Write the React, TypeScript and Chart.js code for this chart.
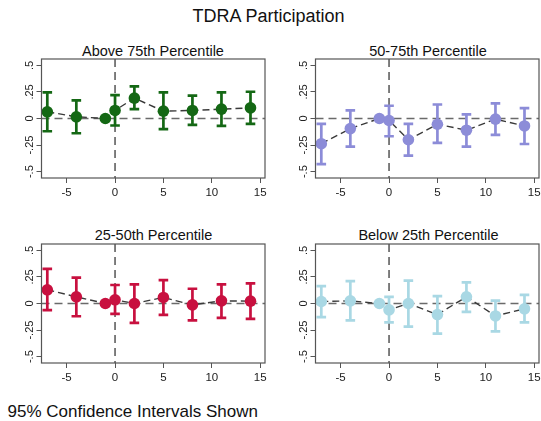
import React, { useEffect, useRef } from "react";
import { Chart, registerables } from "chart.js";

Chart.register(...registerables);

const periods = [-7, -4, -1, 0, 2, 5, 8, 11, 14];
const xTicks = [-5, 0, 5, 10, 15];
const yTicks = [-0.5, -0.25, 0, 0.25, 0.5];
const yTickLabels = ["-.5", "-.25", "0", ".25", ".5"];

const above75Est = [0.063, 0.016, 0, 0.076, 0.192, 0.069, 0.076, 0.088, 0.1];
const above75Lo = [-0.12, -0.139, null, -0.066, 0.088, -0.1, -0.06, -0.069, -0.05];
const above75Hi = [0.246, 0.17, null, 0.22, 0.303, 0.246, 0.215, 0.246, 0.252];

const p5075Est = [-0.237, -0.095, 0, -0.019, -0.2, -0.054, -0.11, -0.006, -0.07];
const p5075Lo = [-0.43, -0.265, null, -0.167, -0.35, -0.23, -0.265, -0.155, -0.24];
const p5075Hi = [-0.05, 0.076, null, 0.12, -0.05, 0.132, 0.038, 0.142, 0.098];

const p2550Est = [0.129, 0.063, 0, 0.035, 0, 0.057, -0.013, 0.025, 0.022];
const p2550Lo = [-0.063, -0.12, null, -0.098, -0.183, -0.107, -0.158, -0.136, -0.145];
const p2550Hi = [0.325, 0.243, null, 0.174, 0.18, 0.22, 0.139, 0.18, 0.19];

const below25Est = [0.019, 0.025, 0, -0.06, 0, -0.104, 0.063, -0.117, -0.05];
const below25Lo = [-0.129, -0.158, null, -0.177, -0.218, -0.284, -0.079, -0.262, -0.177];
const below25Hi = [0.164, 0.21, null, 0.063, 0.215, 0.069, 0.199, 0.028, 0.082];

const FONT = "'Liberation Sans', Arial, Helvetica, sans-serif";

type PanelProps = {
  est: number[];
  lo: (number | null)[];
  hi: (number | null)[];
  color: string;
  left: number;
  top: number;
};

const CW = 275;
const CH = 165;

function Panel({ est, lo, hi, color, left, top }: PanelProps) {
  const ref = useRef<HTMLCanvasElement | null>(null);
  useEffect(() => {
    if (!ref.current) return;
    const plugin = {
      id: "panelExtras",
      beforeDatasetsDraw(chart: any) {
        const { ctx, chartArea: a, scales } = chart;
        const x = scales.x;
        const y = scales.y;
        ctx.save();
        const y0 = y.getPixelForValue(0);
        ctx.strokeStyle = "#6a6a6a";
        ctx.lineWidth = 1.6;
        ctx.setLineDash([8, 5]);
        ctx.beginPath();
        ctx.moveTo(a.left, y0);
        ctx.lineTo(a.right, y0);
        ctx.stroke();
        const x0 = x.getPixelForValue(0);
        ctx.strokeStyle = "#2a2a2a";
        ctx.lineWidth = 1.2;
        ctx.setLineDash([8, 5]);
        ctx.beginPath();
        ctx.moveTo(x0, a.top);
        ctx.lineTo(x0, a.bottom);
        ctx.stroke();
        ctx.setLineDash([]);
        ctx.strokeStyle = color;
        ctx.lineWidth = 2.7;
        const cap = 4.8;
        periods.forEach((p, i) => {
          const l = lo[i];
          const h = hi[i];
          if (l == null || h == null) return;
          const px = x.getPixelForValue(p);
          const pl = y.getPixelForValue(l);
          const ph = y.getPixelForValue(h);
          ctx.beginPath();
          ctx.moveTo(px, pl);
          ctx.lineTo(px, ph);
          ctx.moveTo(px - cap, pl);
          ctx.lineTo(px + cap, pl);
          ctx.moveTo(px - cap, ph);
          ctx.lineTo(px + cap, ph);
          ctx.stroke();
        });
        ctx.restore();
      },
      afterDraw(chart: any) {
        const { ctx, chartArea: a, scales } = chart;
        const y = scales.y;
        ctx.save();
        ctx.strokeStyle = "#555";
        ctx.lineWidth = 1.2;
        ctx.strokeRect(a.left, a.top, a.right - a.left, a.bottom - a.top);
        ctx.fillStyle = "#222";
        ctx.font = `11px ${FONT}`;
        ctx.textAlign = "center";
        ctx.textBaseline = "middle";
        yTicks.forEach((v, i) => {
          const py = y.getPixelForValue(v);
          ctx.save();
          ctx.translate(a.left - 12, py);
          ctx.rotate(-Math.PI / 2);
          ctx.fillText(yTickLabels[i], 0, 0);
          ctx.restore();
        });
        ctx.restore();
      },
    };
    const chart = new Chart(ref.current, {
      type: "line",
      data: {
        datasets: [
          {
            data: periods.map((p, i) => ({ x: p, y: est[i] })),
            borderColor: "#3a3a3a",
            borderWidth: 1.4,
            borderDash: [7, 4],
            pointRadius: 5.8,
            pointBackgroundColor: color,
            pointBorderColor: color,
            pointBorderWidth: 0,
            tension: 0,
            fill: false,
          },
        ],
      },
      options: {
        responsive: false,
        animation: false,
        events: [],
        layout: { padding: { top: 19, right: 10, left: 0, bottom: 0 } },
        plugins: {
          legend: { display: false },
          tooltip: { enabled: false },
          title: { display: false },
        },
        scales: {
          x: {
            type: "linear",
            min: -7.6,
            max: 15.5,
            afterBuildTicks: (s: any) => {
              s.ticks = xTicks.map((v) => ({ value: v }));
            },
            afterFit: (s: any) => {
              s.height = 27;
            },
            grid: { drawOnChartArea: false, drawTicks: true, tickLength: 5, tickColor: "#555", lineWidth: 1 },
            border: { display: false },
            ticks: {
              font: { size: 11.5, family: FONT },
              color: "#222",
              padding: 3,
              maxRotation: 0,
              callback: (v: any) => String(v),
            },
          },
          y: {
            type: "linear",
            min: -0.56,
            max: 0.56,
            afterBuildTicks: (s: any) => {
              s.ticks = yTicks.map((v) => ({ value: v }));
            },
            afterFit: (s: any) => {
              s.width = 41.5;
            },
            grid: { drawOnChartArea: false, drawTicks: true, tickLength: 5, tickColor: "#555", lineWidth: 1 },
            border: { display: false },
            ticks: { display: false },
          },
        },
      } as any,
      plugins: [plugin],
    });
    return () => chart.destroy();
  }, [est, lo, hi, color]);
  return (
    <canvas
      ref={ref}
      width={CW}
      height={CH}
      style={{ position: "absolute", left, top, width: CW, height: CH }}
    />
  );
}

function Label({ text, cx, top, size }: { text: string; cx: number; top: number; size: number }) {
  return (
    <div
      style={{
        position: "absolute",
        left: cx,
        top,
        transform: "translateX(-50%)",
        fontSize: size,
        lineHeight: 1,
        whiteSpace: "nowrap",
        color: "#111",
      }}
    >
      {text}
    </div>
  );
}

export default function App() {
  return (
    <div
      style={{
        position: "absolute",
        left: 0,
        top: 0,
        width: 541,
        height: 421,
        overflow: "hidden",
        background: "#fff",
        fontFamily: FONT,
      }}
    >
      <Label text="TDRA Participation" cx={268.5} top={6.5} size={18} />
      <Label text="Above 75th Percentile" cx={153} top={43.5} size={14.5} />
      <Label text="50-75th Percentile" cx={428} top={43.5} size={14.5} />
      <Label text="25-50th Percentile" cx={153.5} top={228} size={14.5} />
      <Label text="Below 25th Percentile" cx={428.5} top={228} size={14.5} />
      <Panel est={above75Est} lo={above75Lo} hi={above75Hi} color="#146814" left={0} top={40} />
      <Panel est={p5075Est} lo={p5075Lo} hi={p5075Hi} color="#8c8cd8" left={274} top={40} />
      <Panel est={p2550Est} lo={p2550Lo} hi={p2550Hi} color="#c8103f" left={0} top={225} />
      <Panel est={below25Est} lo={below25Lo} hi={below25Hi} color="#a9d8e4" left={274} top={225} />
      <div
        style={{
          position: "absolute",
          left: 7.5,
          top: 402.5,
          fontSize: 17,
          lineHeight: 1,
          whiteSpace: "nowrap",
          color: "#111",
        }}
      >
        95% Confidence Intervals Shown
      </div>
    </div>
  );
}
